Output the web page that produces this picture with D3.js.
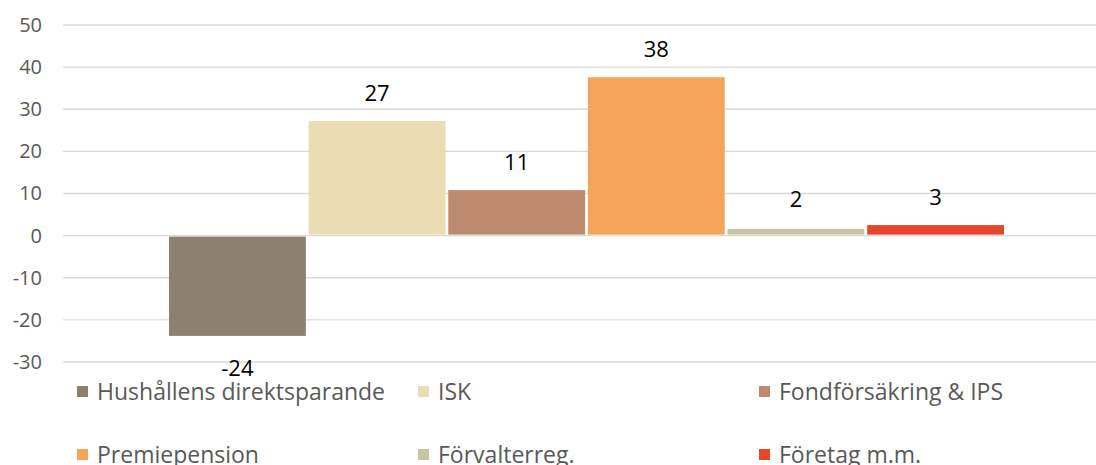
<!DOCTYPE html>
<html>
<head>
<meta charset="utf-8">
<script src="https://cdn.jsdelivr.net/npm/d3@7"></script>
<style>
  body { margin: 0; background: #fff; }
  text { font-family: "Open Sans", "Liberation Sans", sans-serif; }
</style>
</head>
<body>
<div id="chart-area"></div>
<script>
// data
const seriesNames = ['Hushållens direktsparande', 'ISK', 'Fondförsäkring & IPS',
  'Premiepension', 'Förvalterreg.', 'Företag m.m.'];
const seriesValues = [-23.8, 27.2, 10.8, 37.6, 1.6, 2.5];
const seriesColors = ['#8c806e', '#eadcb3', '#bf8b6e', '#f5a559', '#c6c6a6', '#e6472a'];
const yTicks = [-30, -20, -10, 0, 10, 20, 30, 40, 50];

const W = 1096, H = 465;

const svg = d3.select('#chart-area')
  .append('svg')
  .attr('width', W)
  .attr('height', H);

const y = d3.scaleLinear()
  .domain([-30, 50])
  .range([362, 25]);

const x = d3.scaleBand()
  .domain(seriesNames)
  .range([169, 1004])
  .paddingInner(0.02);

// plain hyphen for negatives, like the original
const fmt = d => d3.format('.0f')(d).replace('\u2212', '-');

// gridlines
svg.append('g')
  .selectAll('line')
  .data(yTicks)
  .enter()
  .append('line')
  .attr('x1', 63)
  .attr('x2', W)
  .attr('y1', d => y(d))
  .attr('y2', d => y(d))
  .attr('stroke', '#d9d9d9')
  .attr('stroke-width', 1.3);

// Y axis labels
const yAxis = d3.axisLeft(y).tickValues(yTicks).tickSize(0).tickPadding(0).tickFormat(fmt);
const ya = svg.append('g')
  .attr('transform', 'translate(42, 0)')
  .call(yAxis);
ya.select('.domain').remove();
ya.selectAll('text')
  .attr('fill', '#595959')
  .attr('font-size', '20px')
  .attr('font-family', '"Open Sans", sans-serif');

// bars
svg.append('g')
  .selectAll('rect')
  .data(seriesValues)
  .enter()
  .append('rect')
  .attr('x', (d, i) => x(seriesNames[i]))
  .attr('width', x.bandwidth())
  .attr('y', d => d >= 0 ? y(d) : y(0) + 1)
  .attr('height', d => Math.abs(y(d) - y(0)) - 1)
  .attr('fill', (d, i) => seriesColors[i]);

// value labels
svg.append('g')
  .selectAll('text')
  .data(seriesValues)
  .enter()
  .append('text')
  .attr('x', (d, i) => x(seriesNames[i]) + x.bandwidth() / 2)
  .attr('y', d => d >= 0 ? Math.min(y(d), y(0) - 9) - 20 : y(d) + 40)
  .attr('text-anchor', 'middle')
  .attr('font-size', '22px')
  .attr('fill', '#000')
  .text(d => fmt(d));

// legend, 3 columns x 2 rows
const legend = svg.append('g');
const item = legend.selectAll('g')
  .data(seriesNames)
  .enter()
  .append('g')
  .attr('transform', (d, i) => 'translate(' + (77 + (i % 3) * 341) + ', ' + (392 + Math.floor(i / 3) * 63) + ')');

item.append('rect')
  .attr('x', 0)
  .attr('y', -6)
  .attr('width', 11)
  .attr('height', 11)
  .attr('fill', (d, i) => seriesColors[i]);

item.append('text')
  .attr('x', 20)
  .attr('y', 8)
  .attr('font-size', '23px')
  .attr('fill', '#595959')
  .text(d => d);
</script>
</body>
</html>
